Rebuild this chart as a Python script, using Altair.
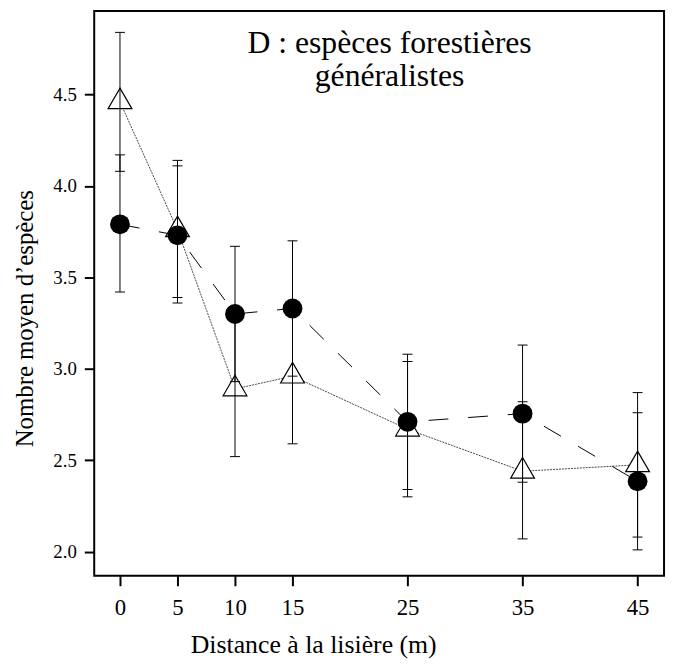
import altair as alt
import pandas as pd

# ---- data ----
distances = [0, 5, 10, 15, 25, 35, 45]

circle_mean = [3.79, 3.73, 3.30, 3.33, 2.71, 2.755, 2.385]
circle_lo = [3.42, 3.36, 2.93, 2.96, 2.34, 2.38, 2.01]
circle_hi = [4.17, 4.11, 3.67, 3.70, 3.08, 3.13, 2.76]

tri_mean = [4.46, 3.76, 2.89, 2.96, 2.67, 2.44, 2.475]
tri_lo = [4.08, 3.39, 2.52, 2.59, 2.30, 2.07, 2.08]
tri_hi = [4.84, 4.14, 3.26, 3.33, 3.04, 2.82, 2.87]

x_ticks = [0, 5, 10, 15, 25, 35, 45]
y_ticks = [2.0, 2.5, 3.0, 3.5, 4.0, 4.5]

title_lines = ["D : espèces forestières", "généralistes"]
x_title = "Distance à la lisière (m)"
y_title = "Nombre moyen d\u2019espèces"

rows = []
for grp, m, lo, hi in (("cercle", circle_mean, circle_lo, circle_hi),
                       ("triangle", tri_mean, tri_lo, tri_hi)):
    for d, a, b, c in zip(distances, m, lo, hi):
        rows.append({"dist": d, "group": grp, "mean": a, "lo": b, "hi": c})
df = pd.DataFrame(rows)

FONT = "Liberation Serif"

xscale = alt.Scale(domain=[-2.24, 47.3], nice=False, zero=False)
yscale = alt.Scale(domain=[1.868, 4.957], nice=False, zero=False)

xax = alt.Axis(values=x_ticks, format="d", title=x_title,
               labelFont=FONT, labelFontSize=23, labelColor="black",
               labelPadding=11, labelFlush=False, labelOverlap=False,
               titleFont=FONT, titleFontSize=26, titleFontWeight="normal",
               titleColor="black",
               titleX=221, titleY=77, titleAlign="center",
               titleBaseline="alphabetic")
yax = alt.Axis(values=y_ticks, format=".1f", title=y_title,
               labelFont=FONT, labelFontSize=19, labelColor="black",
               labelPadding=8, labelOverlap=False, labelFlush=False,
               titleFont=FONT, titleFontSize=25, titleFontWeight="normal",
               titleColor="black",
               titleX=-62, titleY=310, titleAngle=270, titleAlign="center",
               titleBaseline="alphabetic")

X = alt.X("dist:Q", scale=xscale, axis=xax)

base = alt.Chart(df)
tri = base.transform_filter(alt.datum.group == "triangle")
cir = base.transform_filter(alt.datum.group == "cercle")

tri_line = tri.mark_line(color="#333333", strokeWidth=0.9, strokeDash=[2, 1]).encode(
    x=X, y=alt.Y("mean:Q", scale=yscale, axis=yax))

tri_pts = tri.mark_point(shape="M0,-1L0.866,0.5L-0.866,0.5Z", size=768,
                         filled=True, fill="white", stroke="black",
                         strokeWidth=1.2, opacity=1).encode(
    x=X, y=alt.Y("mean:Q", scale=yscale, axis=yax))

rules = base.mark_rule(color="black", strokeWidth=1).encode(
    x=X, y=alt.Y("lo:Q", scale=yscale, axis=yax), y2="hi:Q")

caps_lo = base.mark_tick(orient="horizontal", size=10, thickness=1, color="black",
                         opacity=1).encode(
    x=X, y=alt.Y("lo:Q", scale=yscale, axis=yax))
caps_hi = base.mark_tick(orient="horizontal", size=10, thickness=1, color="black",
                         opacity=1).encode(
    x=X, y=alt.Y("hi:Q", scale=yscale, axis=yax))

cir_line = cir.mark_line(color="black", strokeWidth=1, strokeDash=[20, 20]).encode(
    x=X, y=alt.Y("mean:Q", scale=yscale, axis=yax))

cir_pts = cir.mark_circle(size=400, color="black", opacity=1).encode(
    x=X, y=alt.Y("mean:Q", scale=yscale, axis=yax))

title_txt = alt.Chart(pd.DataFrame({"k": [0]})).mark_text(
    text=title_lines, font=FONT, fontSize=32, lineHeight=34, align="center",
    baseline="alphabetic", color="black").encode(
    x=alt.value(298), y=alt.value(42))

chart = alt.layer(tri_line, tri_pts, rules, caps_lo, caps_hi, cir_line, cir_pts,
                  title_txt).properties(
    width=575, height=570,
    autosize=alt.AutoSizeParams(type="none"),
    padding={"left": 87, "top": 0, "right": 4, "bottom": 88},
    background="white",
).configure_view(
    stroke="black", strokeWidth=2
).configure_axis(
    labelFont=FONT, titleFont=FONT, labelColor="black", titleColor="black",
    tickColor="black", tickWidth=2, tickSize=10, domain=False, grid=False
)

chart.save("out.html", embed_options={"renderer": "svg", "actions": False})
